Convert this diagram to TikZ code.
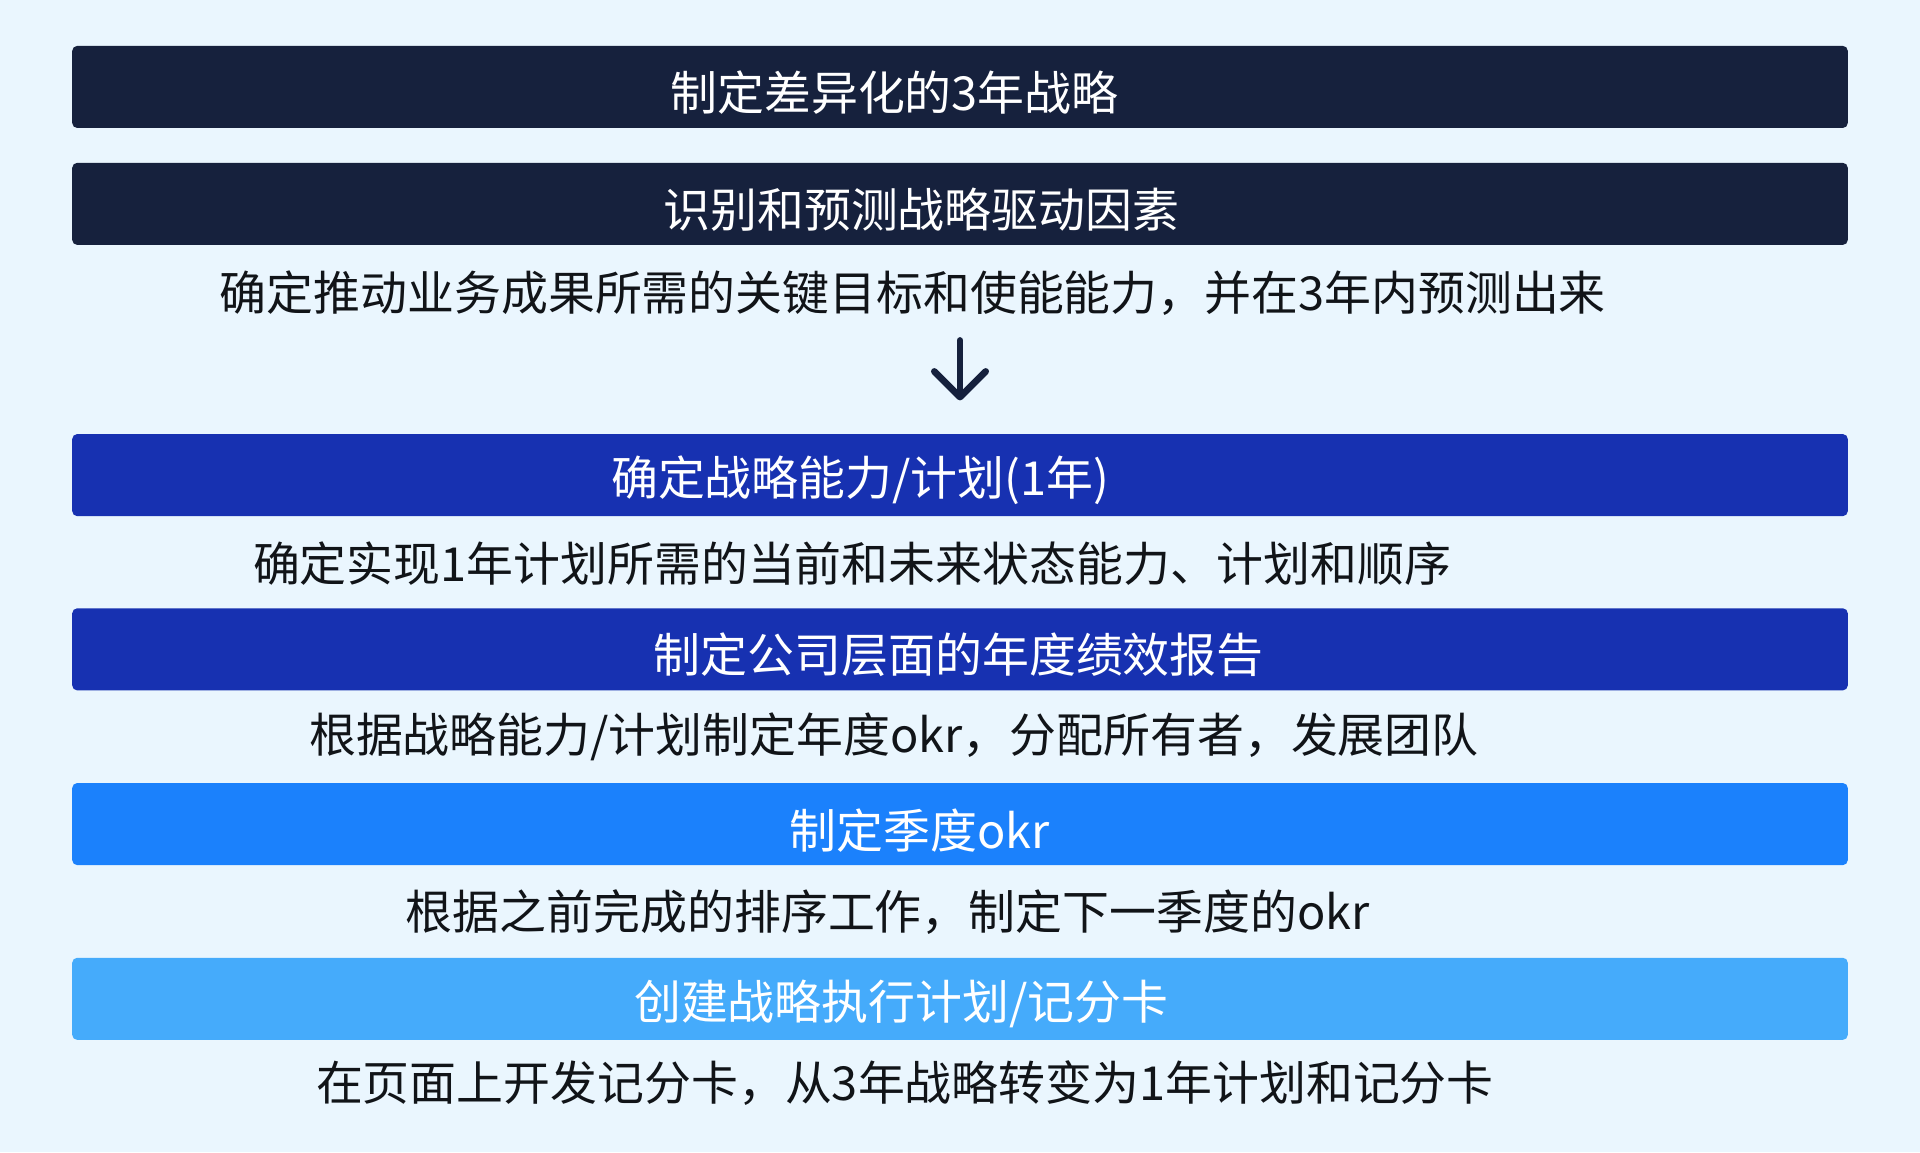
\documentclass[tikz,border=0pt]{standalone}
\usepackage{fontspec}
\setmainfont{Noto Sans CJK SC}
\usetikzlibrary{arrows.meta}
\definecolor{bgc}{HTML}{EAF6FE}
\definecolor{navy}{HTML}{16213D}
\definecolor{royal}{HTML}{1731B1}
\definecolor{bright}{HTML}{1B81FC}
\definecolor{light}{HTML}{45ABFB}
\definecolor{ink}{HTML}{111418}
\tikzset{
  bar/.style={rectangle, rounded corners=2pt, minimum width=725pt, minimum height=33.5pt, inner sep=0pt, draw=none},
  title/.style={text=white, inner sep=0pt, font=\fontsize{19.15pt}{23pt}\selectfont},
  desc/.style={text=ink, inner sep=0pt, font=\fontsize{19.15pt}{23pt}\selectfont},
}
\begin{document}
\begin{tikzpicture}[x=0.5pt,y=-0.5pt]
\fill[bgc] (0,0) rectangle (1568,941);
\useasboundingbox (0,0) rectangle (1568,941);

\node[bar, fill=navy] (b1) at (784,71) {};
\node[title] (t1) at (730.5,76) {制定差异化的3年战略};

\node[bar, fill=navy] (b2) at (784,166.5) {};
\node[title] (t2) at (752.5,171) {识别和预测战略驱动因素};

\node[desc] (d1) at (745.5,239.5) {确定推动业务成果所需的关键目标和使能能力，并在3年内预测出来};

\coordinate (a1) at (784,278);
\coordinate (a2) at (784,327);
\draw[navy, line width=2.7pt, line cap=round, -{Straight Barb[length=10.5pt, width=21pt, round]}] (a1) -- (a2);

\node[bar, fill=royal] (b3) at (784,388) {};
\node[title] (t3) at (702.5,392) {确定战略能力/计划(1年)};

\node[desc] (d2) at (696,460.5) {确定实现1年计划所需的当前和未来状态能力、计划和顺序};

\node[bar, fill=royal] (b4) at (784,530.3) {};
\node[title] (t4) at (783,535) {制定公司层面的年度绩效报告};

\node[desc] (d3) at (730,601.5) {根据战略能力/计划制定年度okr，分配所有者，发展团队};

\node[bar, fill=bright] (b5) at (784,673) {};
\node[title] (t5) at (751,678) {制定季度okr};

\node[desc] (d4) at (725,745) {根据之前完成的排序工作，制定下一季度的okr};

\node[bar, fill=light] (b6) at (784,815.7) {};
\node[title] (t6) at (736,820) {创建战略执行计划/记分卡};

\node[desc] (d5) at (739,884.5) {在页面上开发记分卡，从3年战略转变为1年计划和记分卡};
\end{tikzpicture}
\end{document}
